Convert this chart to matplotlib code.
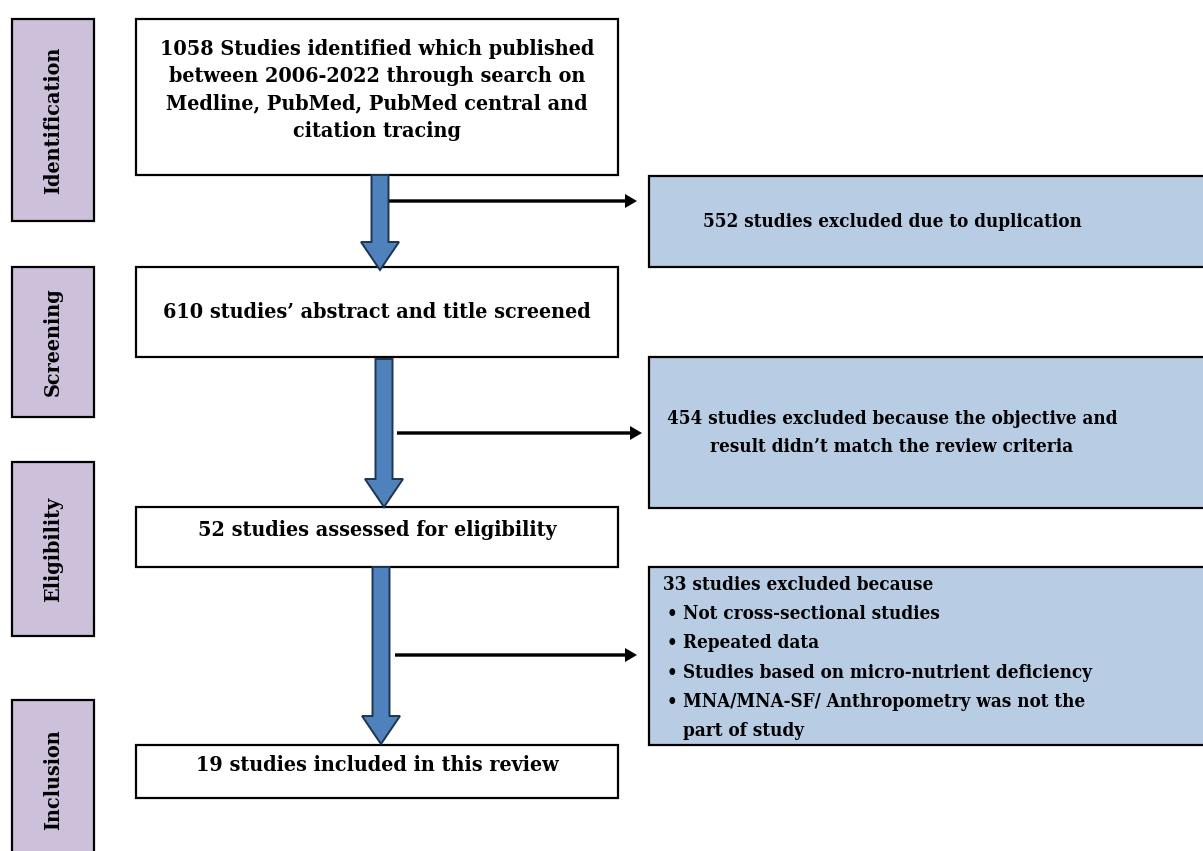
import matplotlib
matplotlib.use("Agg")
import matplotlib.pyplot as plt
from matplotlib.patches import Rectangle, FancyArrow

# ── Content ───────────────────────────────────────────────────────────────────
STAGES = ["Identification", "Screening", "Eligibility", "Inclusion"]

MAIN_TEXT = [
    "1058 Studies identified which published\nbetween 2006-2022 through search on\n"
    "Medline, PubMed, PubMed central and\ncitation tracing",
    "610 studies\u2019 abstract and title screened",
    "52 studies assessed for eligibility",
    "19 studies included in this review",
]

EXCLUDED_TEXT = [
    "552 studies excluded due to duplication",
    "454 studies excluded because the objective and\nresult didn\u2019t match the review criteria",
]

LAST_HEADER = "33 studies excluded because"
LAST_BULLETS = [
    "Not cross-sectional studies",
    "Repeated data",
    "Studies based on micro-nutrient deficiency",
    "MNA/MNA-SF/ Anthropometry was not the\npart of study",
]

# ── Layout (pixel coordinates, y downward) ────────────────────────────────────
STAGE_X = (12, 94)
STAGE_Y = [(19, 221), (267, 417), (462, 636), (700, 870)]
STAGE_TEXT_Y = [120, 342, 549, 780]

MAIN_X = (136, 618)
MAIN_Y = [(19, 175), (267, 357), (507, 567), (745, 798)]
MAIN_TEXT_Y = [90, 312, 530, 765]

EXCL_X = (649, 1220)
EXCL_Y = [(176, 267), (357, 508), (567, 745)]

DOWN_ARROWS = [(380, 175, 270), (384, 359, 507), (381, 567, 744)]
SIDE_ARROWS = [(388, 637, 201), (397, 642, 433), (395, 637, 655)]

LAVENDER = "#CCC0DA"
PALE_BLUE = "#B8CCE4"
ARROW_BLUE = "#4F81BD"
ARROW_EDGE = "#1C3550"

FONT = "DejaVu Serif"
FS_MAIN = 15.4
FS_SIDE = 13.5

fig = plt.figure(figsize=(12.03, 8.51), dpi=100)
ax = fig.add_axes([0, 0, 1, 1])
ax.set_xlim(0, 1203)
ax.set_ylim(851, 0)
ax.axis("off")


def box(x0, x1, y0, y1, fc, lw=1.6, ec="black", z=1):
    ax.add_patch(Rectangle((x0, y0), x1 - x0, y1 - y0, facecolor=fc,
                           edgecolor=ec, linewidth=lw, zorder=z))


def label(x, y, txt, fs, ha="center", **kw):
    ax.text(x, y, txt, ha=ha, va="center", fontsize=fs, fontweight="bold",
            family=FONT, fontstretch="condensed", zorder=3, **kw)


# stage labels on the left
for name, (y0, y1), ty in zip(STAGES, STAGE_Y, STAGE_TEXT_Y):
    box(STAGE_X[0], STAGE_X[1], y0, y1, LAVENDER)
    label((STAGE_X[0] + STAGE_X[1]) / 2, ty, name, FS_MAIN, rotation=90)

# main flow boxes
for txt, (y0, y1), ty in zip(MAIN_TEXT, MAIN_Y, MAIN_TEXT_Y):
    box(MAIN_X[0], MAIN_X[1], y0, y1, "white")
    label((MAIN_X[0] + MAIN_X[1]) / 2, ty, txt, FS_MAIN, linespacing=1.47)

# exclusion boxes
for (y0, y1) in EXCL_Y:
    box(EXCL_X[0], EXCL_X[1], y0, y1, PALE_BLUE)

label(892, 222, EXCLUDED_TEXT[0], FS_SIDE)
label(892, 433, EXCLUDED_TEXT[1], FS_SIDE, linespacing=1.66)

label(663, 585, LAST_HEADER, FS_SIDE, ha="left")
line_y = 614
for item in LAST_BULLETS:
    label(667, line_y, "\u2022", FS_SIDE, ha="left")
    for line in item.split("\n"):
        label(683, line_y, line, FS_SIDE, ha="left")
        line_y += 29.3

# blue block arrows down the flow
for x, y0, y1 in DOWN_ARROWS:
    ax.add_patch(FancyArrow(x, y0, 0, y1 - y0, width=17, head_width=38,
                            head_length=28, length_includes_head=True,
                            facecolor=ARROW_BLUE, edgecolor=ARROW_EDGE,
                            linewidth=1.4, zorder=4))

# black arrows toward exclusion boxes
for x0, x1, y in SIDE_ARROWS:
    ax.add_patch(FancyArrow(x0, y, x1 - x0, 0, width=3.4, head_width=14,
                            head_length=12, length_includes_head=True,
                            facecolor="black", edgecolor="black",
                            linewidth=0, zorder=3))

fig.savefig("out.png", dpi=100)
